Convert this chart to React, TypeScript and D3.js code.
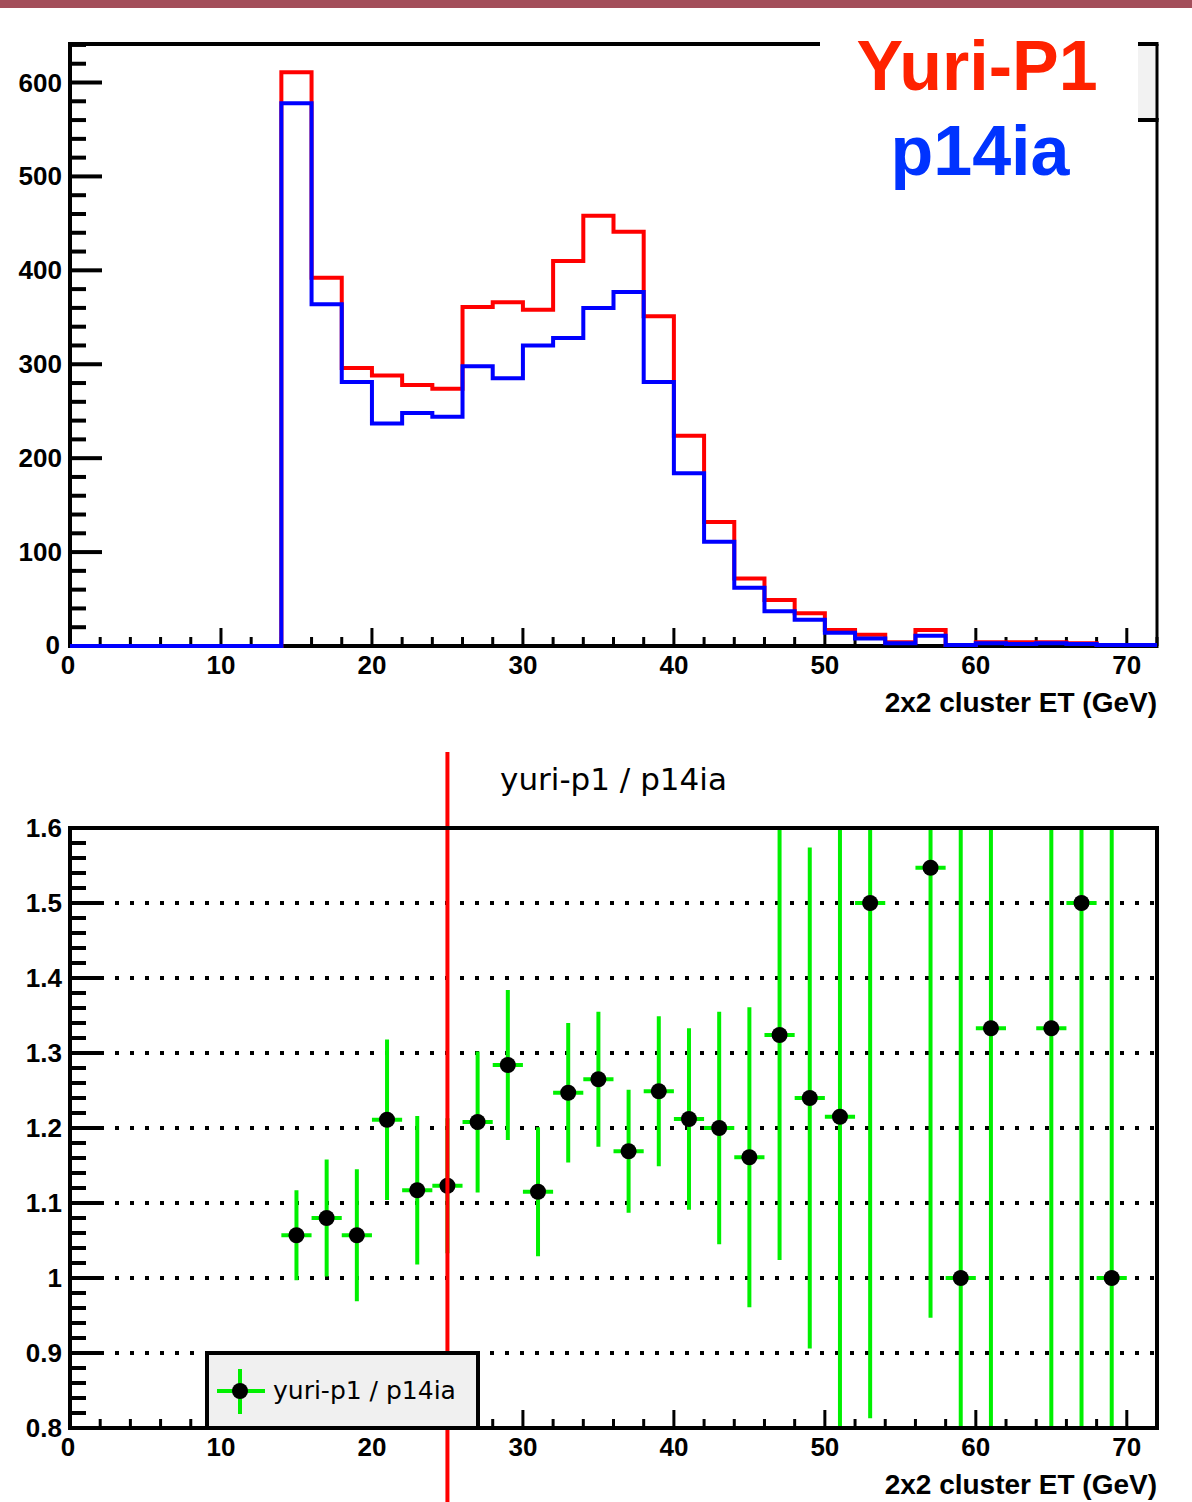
import * as d3 from 'd3'

// bin lower edges (GeV), bin width 2
const binEdges = [0, 2, 4, 6, 8, 10, 12, 14, 16, 18, 20, 22, 24, 26, 28, 30, 32, 34, 36, 38, 40, 42, 44, 46, 48, 50, 52, 54, 56, 58, 60, 62, 64, 66, 68, 70]
const yuriCounts = [0, 0, 0, 0, 0, 0, 0, 611, 392, 296, 288, 278, 274, 361, 366, 358, 410, 458, 441, 351, 224, 132, 72, 49, 35, 17, 12, 4, 17, 1, 4, 4, 4, 3, 1, 1]
const p14Counts = [0, 0, 0, 0, 0, 0, 0, 578, 364, 281, 237, 248, 244, 298, 285, 320, 328, 360, 377, 281, 184, 111, 62, 37, 28, 14, 8, 3, 11, 1, 3, 2, 3, 2, 1, 1]

// ratio points
const ratioX = [15, 17, 19, 21, 23, 25, 27, 29, 31, 33, 35, 37, 39, 41, 43, 45, 47, 49, 51, 53, 57, 59, 61, 65, 67, 69]
const ratioY = [1.057, 1.08, 1.057, 1.211, 1.117, 1.123, 1.208, 1.284, 1.115, 1.247, 1.265, 1.169, 1.249, 1.212, 1.2, 1.161, 1.324, 1.24, 1.215, 1.5, 1.547, 1.0, 1.333, 1.333, 1.5, 1.0]
const ratioErr = [0.06, 0.078, 0.088, 0.107, 0.099, 0.09, 0.094, 0.1, 0.086, 0.093, 0.09, 0.082, 0.1, 0.121, 0.155, 0.2, 0.3, 0.334, 0.45, 0.687, 0.6, 1.0, 1.0, 1.0, 1.0, 1.0]

const xMajor = [0, 10, 20, 30, 40, 50, 60, 70]
const topYMajor = [0, 100, 200, 300, 400, 500, 600]
const botYMajor = [0.8, 0.9, 1.0, 1.1, 1.2, 1.3, 1.4, 1.5, 1.6]
const botYLabels = ['0.8', '0.9', '1', '1.1', '1.2', '1.3', '1.4', '1.5', '1.6']
const gridLevels = [0.9, 1.0, 1.1, 1.2, 1.3, 1.4, 1.5]
const cutValue = 25

const L = 70, R = 1157
const labelFont = '"Liberation Sans", Arial, sans-serif'
const textFont = '"DejaVu Sans", Verdana, sans-serif'

const x = d3.scaleLinear().domain([0, 72]).range([L, R])
const yTop = d3.scaleLinear().domain([0, 641]).range([646, 44])
const yBot = d3.scaleLinear().domain([0.8, 1.6]).range([1428, 828])

const histPath = (counts: number[]) => {
  const pts: [number, number][] = binEdges.map((e, i) => [e, counts[i]])
  pts.push([72, counts[counts.length - 1]])
  return d3.line<[number, number]>()
    .x((d) => x(d[0]))
    .y((d) => yTop(d[1]))
    .curve(d3.curveStepAfter)(pts) as string
}

const XAxis = ({ y0 }: { y0: number }) => (
  <g>
    {d3.range(0, 73, 2).map((t) => (
      <line key={t} x1={x(t)} x2={x(t)} y1={y0} y2={y0 - (t % 10 === 0 ? 18 : 9)} stroke="#000" strokeWidth={3} />
    ))}
    {xMajor.map((t) => (
      <text key={t} x={t === 0 ? x(t) - 2 : x(t)} y={y0 + 28} textAnchor="middle" fontFamily={labelFont} fontWeight="bold" fontSize={26}>{t}</text>
    ))}
    <text x={R} y={y0 + 66} textAnchor="end" fontFamily={labelFont} fontWeight="bold" fontSize={28}>2x2 cluster ET (GeV)</text>
  </g>
)

const App = () => {
  const topMinor = d3.range(0, 641, 20)
  const botMinor = d3.range(0.8, 1.6001, 0.02)
  return (
    <svg width={1192} height={1502} style={{ position: 'absolute', left: 0, top: 0, background: '#fff' }}>
      <rect x={0} y={0} width={1192} height={8} fill="#a34e5a" />

      {/* ---------- top histogram ---------- */}
      <line x1={L} x2={R} y1={646} y2={646} stroke="#000" strokeWidth={4} />
      <line x1={L} x2={L} y1={44} y2={648} stroke="#000" strokeWidth={4} />
      <line x1={L - 2} x2={820} y1={44} y2={44} stroke="#000" strokeWidth={4} />
      <line x1={R} x2={R} y1={118} y2={648} stroke="#000" strokeWidth={3} />
      <rect x={1138} y={44} width={19} height={76} fill="#f2f2f2" />
      <line x1={1138} x2={R + 1.5} y1={44} y2={44} stroke="#000" strokeWidth={4} />
      <line x1={1138} x2={R + 1.5} y1={120} y2={120} stroke="#000" strokeWidth={4} />
      <line x1={R} x2={R} y1={44} y2={120} stroke="#000" strokeWidth={3} />
      {topMinor.map((t) => (
        <line key={t} x1={L} x2={L + (t % 100 === 0 ? 32 : 16)} y1={yTop(t)} y2={yTop(t)} stroke="#000" strokeWidth={4} />
      ))}
      {topYMajor.map((t) => (
        <text key={t} x={t === 0 ? 60 : 62} y={t === 0 ? yTop(t) + 8 : yTop(t) + 9} textAnchor="end" fontFamily={labelFont} fontWeight="bold" fontSize={26}>{t}</text>
      ))}
      <XAxis y0={646} />
      <path d={histPath(yuriCounts)} fill="none" stroke="#ff0000" strokeWidth={4} />
      <path d={histPath(p14Counts)} fill="none" stroke="#0000ff" strokeWidth={4} />
      <text x={977} y={90} textAnchor="middle" fontFamily={labelFont} fontWeight="bold" fontSize={70} fill="#ff2200">Yuri-P1</text>
      <text x={980} y={175} textAnchor="middle" fontFamily={labelFont} fontWeight="bold" fontSize={70} fill="#0033ff">p14ia</text>

      {/* ---------- ratio ---------- */}
      <text x={(L + R) / 2} y={790} textAnchor="middle" fontFamily={textFont} fontSize={31}>yuri-p1 / p14ia</text>
      <clipPath id="frame">
        <rect x={L} y={828} width={R - L} height={600} />
      </clipPath>
      {gridLevels.map((g) => (
        <line key={g} x1={L} x2={R} y1={yBot(g)} y2={yBot(g)} stroke="#000" strokeWidth={4} strokeDasharray="4 11" />
      ))}
      <g clipPath="url(#frame)">
        {ratioX.map((v, i) => (
          <g key={v}>
            <line x1={x(v)} x2={x(v)} y1={yBot(ratioY[i] - ratioErr[i])} y2={yBot(ratioY[i] + ratioErr[i])} stroke="#00f000" strokeWidth={4} />
            <line x1={x(v - 1)} x2={x(v + 1)} y1={yBot(ratioY[i])} y2={yBot(ratioY[i])} stroke="#00f000" strokeWidth={4} />
            <circle cx={x(v)} cy={yBot(ratioY[i])} r={8} fill="#000" />
          </g>
        ))}
      </g>
      <line x1={x(cutValue)} x2={x(cutValue)} y1={752} y2={1502} stroke="#ff0000" strokeWidth={4} />
      <rect x={L} y={828} width={R - L} height={600} fill="none" stroke="#000" strokeWidth={4} />
      {botMinor.map((t, i) => (
        <line key={i} x1={L} x2={L + (i % 5 === 0 ? 32 : 16)} y1={yBot(t)} y2={yBot(t)} stroke="#000" strokeWidth={4} />
      ))}
      {botYMajor.map((t, i) => (
        <text key={t} x={62} y={yBot(t) + 9} textAnchor="end" fontFamily={labelFont} fontWeight="bold" fontSize={26}>{botYLabels[i]}</text>
      ))}
      <XAxis y0={1428} />
      <rect x={207} y={1353} width={271} height={75} fill="#f0f0f0" stroke="#000" strokeWidth={4} />
      <line x1={217} x2={265} y1={1391} y2={1391} stroke="#00f000" strokeWidth={4} />
      <line x1={240} x2={240} y1={1369} y2={1414} stroke="#00f000" strokeWidth={4} />
      <circle cx={240} cy={1391} r={8} fill="#000" />
      <text x={273} y={1399} fontFamily={textFont} fontSize={25}>yuri-p1 / p14ia</text>
    </svg>
  )
}

export default App
